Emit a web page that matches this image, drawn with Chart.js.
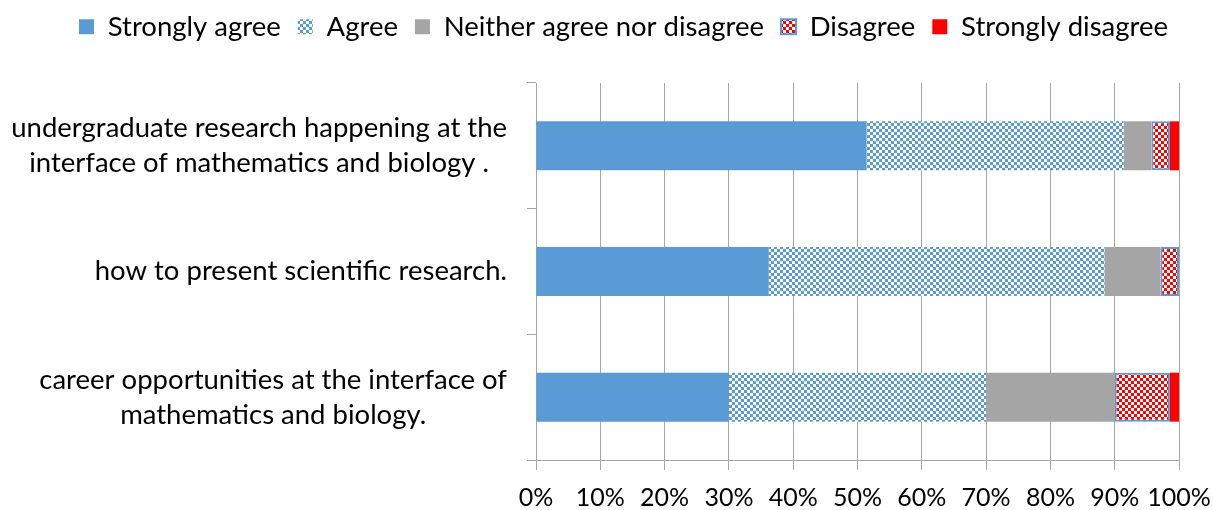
<!DOCTYPE html>
<html><head><meta charset="utf-8">
<script src="https://cdn.jsdelivr.net/npm/chart.js@4"></script>
<style>html,body{margin:0;padding:0;background:#fff}#wrap{width:1213px;height:510px}</style>
</head><body><div id="wrap"><canvas id="c" width="1213" height="510"></canvas></div>
<script>
const categories = [
  ["undergraduate research happening at the", "interface of mathematics and biology ."],
  ["how to present scientific research."],
  ["career opportunities at the interface of", "mathematics and biology."]
];
const seriesNames = ["Strongly agree", "Agree", "Neither agree nor disagree", "Disagree", "Strongly disagree"];
const stronglyAgree = [51.4, 36.2, 30.0];
const agree = [40.0, 52.2, 40.0];
const neither = [4.3, 8.7, 20.0];
const disagree = [2.9, 2.9, 8.6];
const stronglyDisagree = [1.4, 0, 1.4];
const xTickSuffix = "%";

const FONT = "Lato";
const FS = 27.5;
const TFS = 25;
const GRID = "#a6a6a6";
const PAD_R = 34;
const LEGEND_SHIFT = 34;

function checker(c1, c2, s) {
  const cv = document.createElement("canvas");
  cv.width = cv.height = 2 * s;
  const x = cv.getContext("2d");
  x.fillStyle = c2; x.fillRect(0, 0, 2 * s, 2 * s);
  x.fillStyle = c1; x.fillRect(0, 0, s, s); x.fillRect(s, s, s, s);
  return x.createPattern(cv, "repeat");
}

function draw() {
  const ctx = document.getElementById("c").getContext("2d");
  const blueCheck = checker("#5b9bd5", "#ffffff", 3);
  const redCheck = checker("#ff0000", "#ffffff", 3);

  const legendSpacer = {
    id: "legendSpacer",
    beforeInit(chart) {
      const orig = chart.legend.fit;
      chart.legend.fit = function () { orig.bind(chart.legend)(); this.height = 87; };
    },
    beforeDraw(chart) {
      chart.legend.left += LEGEND_SHIFT;
      chart.legend.right += LEGEND_SHIFT;
    },
    afterDraw(chart) {
      chart.legend.left -= LEGEND_SHIFT;
      chart.legend.right -= LEGEND_SHIFT;
    }
  };
  const yLabels = {
    id: "yLabels",
    afterDraw(chart) {
      const s = chart.scales.y;
      const c = chart.ctx;
      c.save();
      c.font = FS + "px " + FONT;
      c.fillStyle = "#000";
      c.textBaseline = "middle";
      c.textAlign = "center";
      categories.forEach((lines, i) => {
        const y = s.getPixelForTick(i);
        const w = Math.max(...lines.map(l => c.measureText(l).width));
        const right = s.right - 29;
        const cx = right - w / 2;
        lines.forEach((l, j) => c.fillText(l, cx, y + (j - (lines.length - 1) / 2) * 35));
      });
      c.restore();
    }
  };

  new Chart(ctx, {
    type: "bar",
    data: {
      labels: categories,
      datasets: [
        { label: seriesNames[0], data: stronglyAgree, backgroundColor: "#5b9bd5", borderWidth: 0 },
        { label: seriesNames[1], data: agree, backgroundColor: blueCheck, borderWidth: 0 },
        { label: seriesNames[2], data: neither, backgroundColor: "#a5a5a5", borderWidth: 0 },
        { label: seriesNames[3], data: disagree, backgroundColor: redCheck, borderColor: "#5b9bd5", borderWidth: 2, borderSkipped: false },
        { label: seriesNames[4], data: stronglyDisagree, backgroundColor: "#ff0000", borderWidth: 0 }
      ]
    },
    options: {
      indexAxis: "y",
      responsive: false,
      animation: false,
      datasets: { bar: { barPercentage: 0.39, categoryPercentage: 1 } },
      layout: { padding: { top: -4, left: 0, right: PAD_R, bottom: 0 } },
      plugins: {
        legend: {
          position: "top",
          labels: { boxWidth: 15, boxHeight: 15, padding: 17, color: "#000", font: { family: FONT, size: FS } }
        },
        tooltip: { enabled: false }
      },
      scales: {
        x: {
          stacked: true, min: 0, max: 100,
          ticks: { stepSize: 10, autoSkip: false, callback: v => v + xTickSuffix, color: "#000", font: { family: FONT, size: TFS }, padding: 13, maxRotation: 0 },
          grid: { color: GRID, tickLength: 10 },
          border: { color: GRID },
          afterFit(s) { s.height = 50; s.paddingLeft = 0; s.paddingRight = 0; }
        },
        y: {
          stacked: true,
          ticks: { display: false },
          grid: { display: true, drawOnChartArea: false, drawTicks: true, tickLength: 9, color: GRID, offset: true },
          border: { color: GRID },
          afterFit(s) { s.width = 536; }
        }
      }
    },
    plugins: [legendSpacer, yLabels]
  });
}
if (document.fonts && document.fonts.load) {
  document.fonts.load(FS + "px " + FONT).then(draw, draw);
} else { draw(); }
</script>
</body></html>
